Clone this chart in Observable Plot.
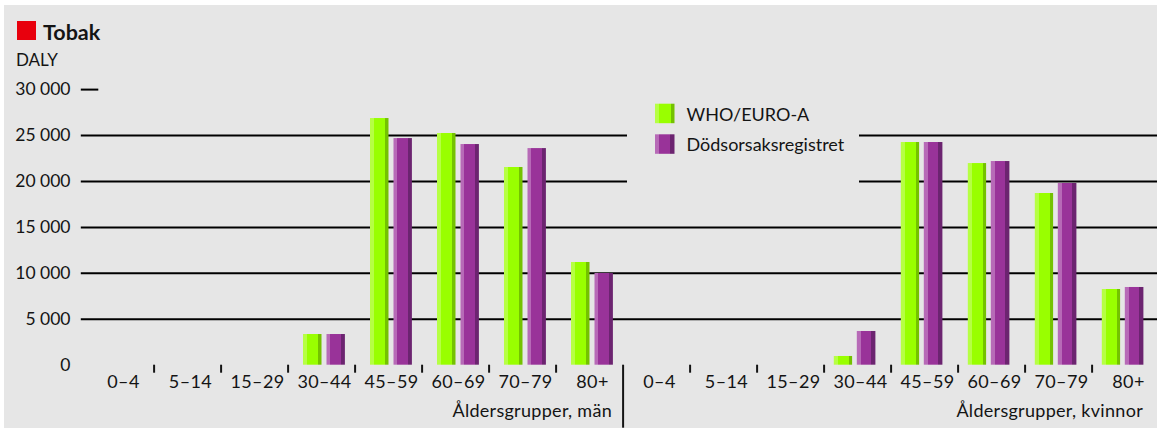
<!DOCTYPE html>
<html lang="sv">
<head>
<meta charset="utf-8">
<title>Tobak – DALY per åldersgrupp</title>
<script src="https://cdn.jsdelivr.net/npm/d3@7"></script>
<script src="https://cdn.jsdelivr.net/npm/@observablehq/plot@0.6"></script>
<style>
  html, body { margin: 0; padding: 0; background: #ffffff; }
  #fig { position: relative; width: 1161px; height: 432px; overflow: hidden;
         font-family: Lato, "Open Sans", sans-serif; color: #141414; }
  #panel { position: absolute; left: 4px; top: 5px; width: 1153px; height: 423px; background: #e6e6e6; }
  #fig svg { position: absolute; left: 0; top: 0; }
  .xlab text { letter-spacing: 0.4px; }
</style>
</head>
<body>
<div id="fig"><div id="panel"></div></div>
<script>
// Age groups shown on the x axis (repeated for men and women)
const ageGroups = ["0–4", "5–14", "15–29", "30–44", "45–59", "60–69", "70–79", "80+"];
const sexes = ["män", "kvinnor"];
const seriesNames = ["WHO/EURO-A", "Dödsorsaksregistret"];

// DALY attributed to tobacco, per age group
const whoMen   = [0, 0, 0, 3340, 26850, 25220, 21520, 11180];
const dorMen   = [0, 0, 0, 3340, 24670, 24020, 23580,  9980];
const whoWomen = [0, 0, 0,  950, 24240, 21950, 18690,  8240];
const dorWomen = [0, 0, 0, 3670, 24240, 22170, 19780,  8460];

const yTicks = [0, 5000, 10000, 15000, 20000, 25000, 30000];

// Long table: one row per bar
const valuesBySex = { "män": [whoMen, dorMen], "kvinnor": [whoWomen, dorWomen] };
const rows = [];
for (const sex of sexes) {
  seriesNames.forEach((series, s) => {
    ageGroups.forEach((age, i) => {
      rows.push({ sex, age, key: sex + "|" + age, series, value: valuesBySex[sex][s][i] });
    });
  });
}
const keys = sexes.flatMap(sex => ageGroups.map(age => sex + "|" + age));

// Layout
const W = 1161, H = 432;
const mL = 80.8, mR = -4.6, mT = 89.1, mB = 67.3;
const bw = (W - mL - mR) / keys.length;

// Bar placement inside each age band, per panel: [insetLeft, insetRight]
const barInsets = {
  "män":     { "WHO/EURO-A": [15, 33.5], "Dödsorsaksregistret": [38.5, 10.1] },
  "kvinnor": { "WHO/EURO-A": [9.8, 38.9], "Dödsorsaksregistret": [32.8, 15.6] }
};
const gradId = { "WHO/EURO-A": "grad-who", "Dödsorsaksregistret": "grad-dor" };
const shades = {
  "grad-who": [["#b6ff44", 0.21], ["#99ff00", 0.82], ["#74c200", 1]],
  "grad-dor": [["#b76ab7", 0.21], ["#993399", 0.79], ["#6c2470", 1]]
};

const fmt = d3.formatLocale({ decimal: ",", thousands: " ", grouping: [3], currency: ["", " kr"] }).format(",d");

const barMarks = [];
for (const sex of sexes) {
  for (const series of seriesNames) {
    const [il, ir] = barInsets[sex][series];
    barMarks.push(Plot.barY(rows.filter(d => d.sex === sex && d.series === series), {
      x: "key", y: "value", fill: `url(#${gradId[series]})`, insetLeft: il, insetRight: ir
    }));
  }
}

// Tick marks between age bands (not at the start of a panel)
const boundaryKeys = keys.filter(k => !k.endsWith("|0–4"));

const chart = Plot.plot({
  width: W, height: H,
  marginLeft: mL, marginRight: mR, marginTop: mT, marginBottom: mB,
  style: { background: "transparent", fontFamily: "Lato, 'Open Sans', sans-serif", fontSize: "17.5px", color: "#141414", overflow: "visible" },
  x: { type: "band", domain: keys, padding: 0, axis: null },
  y: { domain: [0, 30000], axis: null },
  marks: [
    Plot.gridY({ ticks: yTicks.filter(v => v > 0 && v < 30000), stroke: "#000", strokeOpacity: 1, strokeWidth: 2, insetRight: 8.6 }),
    Plot.gridY({ ticks: [30000], stroke: "#000", strokeOpacity: 1, strokeWidth: 2, strokeDasharray: "17.5 5000" }),
    Plot.axisY({ ticks: yTicks, tickFormat: fmt, tickSize: 0, tickPadding: 10.8, label: null }),
    ...barMarks,
    Plot.axisX({ ticks: keys, tickFormat: k => k.split("|")[1], tickSize: 0, tickPadding: 10.3, dx: 2.5, label: null, fontSize: 18, className: "xlab" }),
    Plot.axisX({ ticks: boundaryKeys, tickFormat: () => "", tickSize: 8, strokeWidth: 2, dx: -bw / 2, label: null }),
    Plot.axisX({ ticks: ["kvinnor|0–4"], tickFormat: () => "", tickSize: 63, strokeWidth: 2, dx: -bw / 2, label: null })
  ]
});

// Shaded bar faces: light left edge, flat middle, dark right edge
const defs = d3.select(chart).insert("defs", ":first-child");
for (const id of Object.keys(shades)) {
  const g = defs.append("linearGradient").attr("id", id).attr("x1", 0).attr("x2", 1).attr("y1", 0).attr("y2", 0);
  let prev = 0;
  for (const [color, end] of shades[id]) {
    g.append("stop").attr("offset", prev).attr("stop-color", color);
    g.append("stop").attr("offset", end).attr("stop-color", color);
    prev = end;
  }
}
document.getElementById("fig").appendChild(chart);

// Title, unit, legend and axis titles
const ov = d3.select("#fig").append("svg")
  .attr("width", W).attr("height", H)
  .style("font-family", "Lato, 'Open Sans', sans-serif").style("fill", "#141414");

ov.append("rect").attr("x", 17).attr("y", 21).attr("width", 19).attr("height", 19).attr("fill", "#e8000d");
ov.append("text").attr("x", 43).attr("y", 39.7).attr("font-size", 21.5).attr("font-weight", 700).text("Tobak");
ov.append("text").attr("x", 16).attr("y", 66.3).attr("font-size", 17).text("DALY");

// Legend sits on a patch of background that interrupts the grid lines
ov.append("rect").attr("x", 627).attr("y", 95).attr("width", 232).attr("height", 105).attr("fill", "#e6e6e6");
const legend = ov.append("g").attr("font-size", 18);
seriesNames.forEach((name, i) => {
  const y0 = i === 0 ? 103.7 : 134.3;
  legend.append("rect").attr("x", 655).attr("y", y0).attr("width", 19.5).attr("height", 19.5).attr("fill", `url(#${gradId[name]})`);
  legend.append("text").attr("x", 686.5).attr("y", y0 + 16.8).text(name);
});

const titles = ov.append("g").attr("font-size", 18).attr("text-anchor", "end").style("letter-spacing", "0.3px");
titles.append("text").attr("x", 612).attr("y", 417.3).text("Åldersgrupper, män");
titles.append("text").attr("x", 1143).attr("y", 417.3).text("Åldersgrupper, kvinnor");
</script>
</body>
</html>
